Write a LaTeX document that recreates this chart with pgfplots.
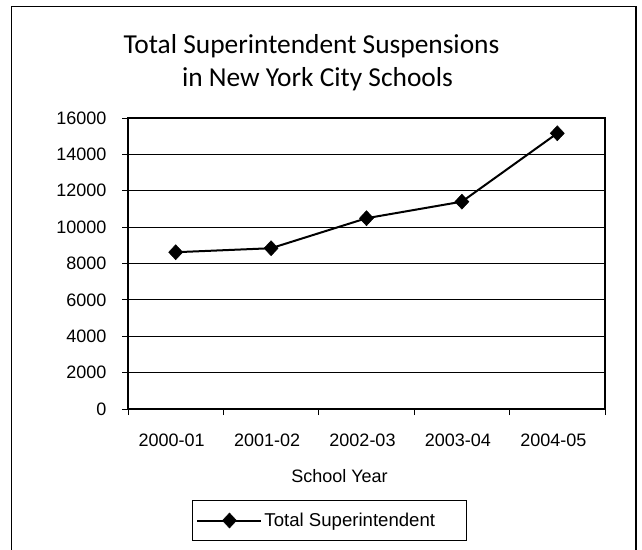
\documentclass[border=0pt]{standalone}
\usepackage{fontspec}
\setmainfont{Liberation Sans}
\newfontfamily\titlefont{Carlito}
\usepackage{pgfplots}
\pgfplotsset{compat=1.18}
\begin{document}
\begin{tikzpicture}
\useasboundingbox (0bp,0bp) rectangle (642bp,550bp);
\draw[line width=1.2bp] (11.7bp,0bp) -- (11.7bp,543.3bp) -- (636bp,543.3bp) -- (636bp,0bp);
\node[anchor=base, font=\titlefont\fontsize{27.4bp}{33bp}\selectfont] at (311.5bp,496bp) {Total Superintendent Suspensions};
\node[anchor=base, font=\titlefont\fontsize{27.4bp}{33bp}\selectfont] at (317.5bp,463bp) {in New York City Schools};
\node[anchor=base, font=\fontsize{18bp}{21bp}\selectfont] at (339.5bp,67bp) {School Year};
\begin{axis}[
 at={(128bp,141bp)}, anchor=south west,
 width=477bp, height=291bp, scale only axis,
 xmin=0.5, xmax=5.5, ymin=0, ymax=16000,
 xtick={0.5,1.5,2.5,3.5,4.5,5.5},
 x tick label as interval,
 xticklabels={2000-01,2001-02,2002-03,2003-04,2004-05},
 ytick={0,2000,...,16000},
 scaled y ticks=false,
 ymajorgrids, major grid style={black, line width=0.8bp},
 axis line style={line width=2.5bp},
 tick align=outside, tick pos=left, major tick length=6bp,
 tick style={black, line width=0.8bp},
 ticklabel style={font=\fontsize{18bp}{21bp}\selectfont},
 /pgf/number format/assume math mode=true,
 /pgf/number format/set thousands separator={},
 yticklabel style={xshift=-12bp},
 xticklabel style={yshift=-15bp, xshift=-4bp},
 legend style={at={(axis description cs:0.4224,-0.3832)}, anchor=center, draw=black, line width=1bp,
   font=\fontsize{18.6bp}{21bp}\selectfont, inner xsep=4bp, inner ysep=11bp},
 legend cell align=left,
 legend image code/.code={\draw[mark repeat=2,mark phase=2,#1] plot coordinates {(0bp,0bp) (32bp,0bp) (64bp,0bp)};},
]
\addplot[black, line width=2bp, mark=diamond*, mark size=7.5bp,
  mark options={xscale=1.25, solid, fill=black, line width=0.5bp}]
  coordinates {(1,8620) (2,8840) (3,10490) (4,11400) (5,15160)};
\legend{\makebox[196bp][l]{Total Superintendent}}
\end{axis}
\end{tikzpicture}
\end{document}
